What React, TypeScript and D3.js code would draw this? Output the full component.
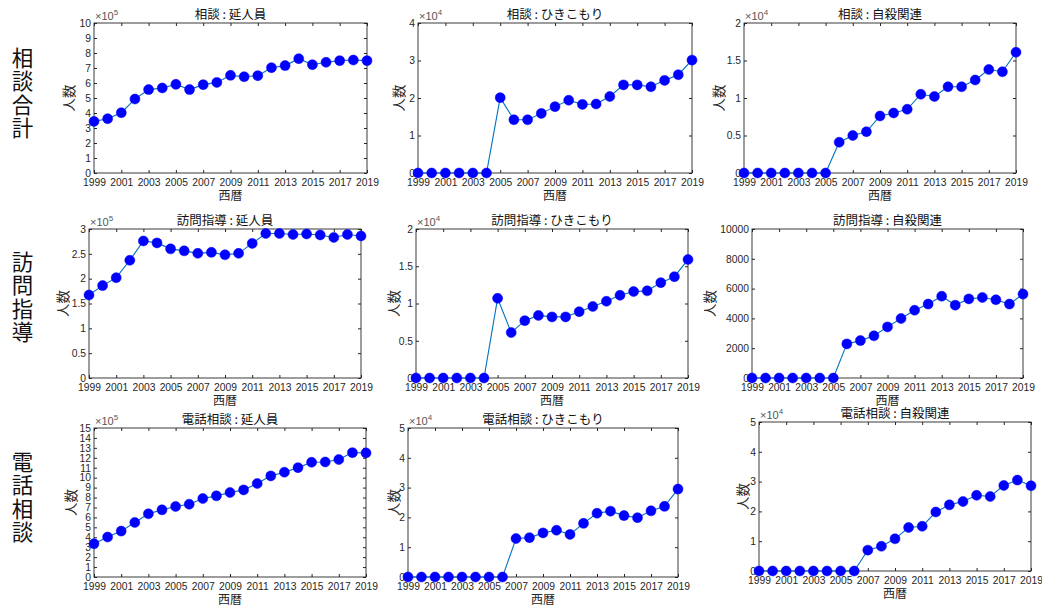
import React, {useEffect, useRef} from 'react';
import * as d3 from 'd3';

// 年 (x軸)
const years = [1999, 2000, 2001, 2002, 2003, 2004, 2005, 2006, 2007, 2008, 2009, 2010,
  2011, 2012, 2013, 2014, 2015, 2016, 2017, 2018, 2019];
const yearTicks = [1999, 2001, 2003, 2005, 2007, 2009, 2011, 2013, 2015, 2017, 2019];

// 相談
const soudanNobe = [344000, 362000, 402000, 493000, 556000, 567000, 591000, 556000, 589000, 604000, 651000,
  642000, 649000, 702000, 716000, 762000, 722000, 738000, 749000, 753000, 749000];
const soudanHiki = [0, 0, 0, 0, 0, 0, 20100, 14200, 14200, 15900, 17700, 19400, 18300, 18400, 20400,
  23500, 23500, 23000, 24700, 26200, 30100];
const soudanJisatsu = [0, 0, 0, 0, 0, 0, 0, 4100, 5000, 5500, 7600, 8000, 8500, 10500, 10200, 11500,
  11500, 12400, 13800, 13500, 16100];

// 訪問指導
const houmonNobe = [167000, 186000, 202000, 237000, 276000, 272000, 260000, 256000, 251000, 253000, 248000,
  251000, 271000, 291000, 291000, 289000, 290000, 288000, 283000, 289000, 286000];
const houmonHiki = [0, 0, 0, 0, 0, 0, 10700, 6100, 7700, 8400, 8200, 8200, 8900, 9600, 10300, 11100,
  11600, 11700, 12800, 13600, 15900];
const houmonJisatsu = [0, 0, 0, 0, 0, 0, 0, 2290, 2510, 2830, 3430, 3990, 4550, 4960, 5490, 4890, 5310,
  5400, 5250, 4960, 5630];

// 電話相談
const denwaNobe = [335000, 402000, 462000, 549000, 636000, 676000, 710000, 733000, 790000, 817000, 850000,
  877000, 941000, 1018000, 1055000, 1101000, 1155000, 1158000, 1182000, 1252000, 1249000];
const denwaHiki = [0, 0, 0, 0, 0, 0, 0, 0, 12900, 13200, 14800, 15700, 14300, 18000, 21400, 22100, 20600,
  19900, 22200, 23700, 29500];
const denwaJisatsu = [0, 0, 0, 0, 0, 0, 0, 0, 7000, 8300, 10800, 14600, 15000, 19800, 22200, 23300, 25400,
  25000, 28700, 30500, 28600];

// y軸の目盛 (表示値)
const ticks0to10 = [0, 1, 2, 3, 4, 5, 6, 7, 8, 9, 10];
const ticks0to4 = [0, 1, 2, 3, 4];
const ticks0to2 = [0, 0.5, 1, 1.5, 2];
const ticks0to3 = [0, 0.5, 1, 1.5, 2, 2.5, 3];
const ticks0to10000 = [0, 2000, 4000, 6000, 8000, 10000];
const ticks0to15 = [0, 1, 2, 3, 4, 5, 6, 7, 8, 9, 10, 11, 12, 13, 14, 15];
const ticks0to5 = [0, 1, 2, 3, 4, 5];

const rowLabels = ['相談合計', '訪問指導', '電話相談'];

interface Panel {
  title: string
  values: number[]
  yTicks: number[]
  exp: number
  box: [number, number, number, number] // left, right, top, bottom
  ylabelDx: number
}

const panels: Panel[] = [
  {title: '相談 : 延人員', values: soudanNobe, yTicks: ticks0to10, exp: 5, box: [94, 367, 23, 173], ylabelDx: -26},
  {title: '相談 : ひきこもり', values: soudanHiki, yTicks: ticks0to4, exp: 4, box: [418, 692, 23, 173], ylabelDx: -20},
  {title: '相談 : 自殺関連', values: soudanJisatsu, yTicks: ticks0to2, exp: 4, box: [744, 1016, 23, 173], ylabelDx: -26},
  {title: '訪問指導 : 延人員', values: houmonNobe, yTicks: ticks0to3, exp: 5, box: [89, 361, 229, 378], ylabelDx: -27},
  {title: '訪問指導 : ひきこもり', values: houmonHiki, yTicks: ticks0to2, exp: 4, box: [416, 688, 229, 378], ylabelDx: -23},
  {title: '訪問指導 : 自殺関連', values: houmonJisatsu, yTicks: ticks0to10000, exp: 0, box: [752, 1023, 229, 378], ylabelDx: -43},
  {title: '電話相談 : 延人員', values: denwaNobe, yTicks: ticks0to15, exp: 5, box: [94, 366, 428, 577], ylabelDx: -24},
  {title: '電話相談 : ひきこもり', values: denwaHiki, yTicks: ticks0to5, exp: 4, box: [408, 678, 428, 577], ylabelDx: -15},
  {title: '電話相談 : 自殺関連', values: denwaJisatsu, yTicks: ticks0to5, exp: 4, box: [759, 1031, 422, 571], ylabelDx: -17},
];

const width = 1042;
const height = 606;
const ink = '#262626';
const fontNum = '"Liberation Sans", Arial, "Noto Sans CJK JP", sans-serif';
const fontJp = '"Noto Sans CJK JP", "Liberation Sans", sans-serif';

const App: React.FC = () => {
  const ref = useRef<SVGSVGElement>(null);

  useEffect(() => {
    const svg = d3.select(ref.current);
    svg.selectAll('*').remove();
    svg.append('rect').attr('width', width).attr('height', height).attr('fill', 'white');

    // row labels, written vertically
    rowLabels.forEach((label, r) => {
      svg.append('text')
        .attr('x', 22.5)
        .attr('y', [47, 251, 451][r])
        .attr('style', 'writing-mode: vertical-rl; text-orientation: upright; letter-spacing: 2px')
        .attr('font-family', fontJp)
        .attr('font-size', 21.5)
        .attr('fill', '#111')
        .text(label);
    });

    panels.forEach(p => {
      const [left, right, top, bottom] = p.box;
      const factor = Math.pow(10, p.exp);
      const yMax = p.yTicks[p.yTicks.length - 1] * factor;

      const x = d3.scaleLinear([1999, 2019], [left, right]);
      const y = d3.scaleLinear([0, yMax], [bottom, top]);
      const g = svg.append('g');

      // box
      g.append('rect')
        .attr('x', left).attr('y', top)
        .attr('width', right - left).attr('height', bottom - top)
        .attr('fill', 'white').attr('stroke', ink).attr('stroke-width', 0.9);

      // x axis (bottom with labels, top ticks only)
      g.append('g')
        .attr('transform', `translate(0,${bottom})`)
        .call(d3.axisBottom(x).tickValues(yearTicks).tickFormat(d3.format('d'))
          .tickSizeInner(-3).tickSizeOuter(0).tickPadding(5.5))
        .call(a => a.select('.domain').remove())
        .call(a => a.selectAll('text').attr('font-size', 10.3).attr('font-family', fontNum).attr('fill', ink))
        .call(a => a.selectAll('line').attr('stroke', ink));
      g.append('g')
        .attr('transform', `translate(0,${top})`)
        .call(d3.axisTop(x).tickValues(yearTicks).tickFormat(() => '').tickSizeInner(-3).tickSizeOuter(0))
        .call(a => a.select('.domain').remove())
        .call(a => a.selectAll('line').attr('stroke', ink));

      // y axis
      const yTickVals = p.yTicks.map(v => v * factor);
      g.append('g')
        .attr('transform', `translate(${left},0)`)
        .call(d3.axisLeft(y).tickValues(yTickVals).tickFormat(d => String(+d / factor))
          .tickSizeInner(-3).tickSizeOuter(0).tickPadding(3))
        .call(a => a.select('.domain').remove())
        .call(a => a.selectAll('text').attr('font-size', 10.3).attr('font-family', fontNum).attr('fill', ink))
        .call(a => a.selectAll('line').attr('stroke', ink));
      g.append('g')
        .attr('transform', `translate(${right},0)`)
        .call(d3.axisRight(y).tickValues(yTickVals).tickFormat(() => '').tickSizeInner(-3).tickSizeOuter(0))
        .call(a => a.select('.domain').remove())
        .call(a => a.selectAll('line').attr('stroke', ink));

      // exponent label
      if (p.exp > 0) {
        const t = g.append('text')
          .attr('x', left + 1).attr('y', top - 3)
          .attr('font-family', fontNum).attr('font-size', 11).attr('fill', '#555');
        t.append('tspan').text('×10');
        t.append('tspan').attr('font-size', 8).attr('dy', -5).text(String(p.exp));
      }

      // title
      g.append('text')
        .attr('x', (left + right) / 2).attr('y', top - 4)
        .attr('text-anchor', 'middle')
        .attr('font-family', fontJp).attr('font-size', 12.5).attr('fill', '#111')
        .text(p.title);

      // x label
      g.append('text')
        .attr('x', (left + right) / 2).attr('y', bottom + 27)
        .attr('text-anchor', 'middle')
        .attr('font-family', fontJp).attr('font-size', 12).attr('fill', ink)
        .text('西暦');

      // y label
      const cy = (top + bottom) / 2;
      g.append('text')
        .attr('transform', `translate(${left + p.ylabelDx},${cy}) rotate(-90)`)
        .attr('text-anchor', 'middle')
        .attr('dominant-baseline', 'central')
        .attr('font-family', fontJp).attr('font-size', 13.5).attr('fill', ink)
        .text('人数');

      // line + markers
      const data = years.map((yr, i) => ({year: yr, value: p.values[i]}));
      const line = d3.line<{year: number, value: number}>()
        .x(d => x(d.year))
        .y(d => y(d.value));
      g.append('path')
        .datum(data)
        .attr('fill', 'none')
        .attr('stroke', '#0072BD')
        .attr('stroke-width', 1.1)
        .attr('d', line);
      g.selectAll('circle.pt')
        .data(data)
        .join('circle')
        .attr('class', 'pt')
        .attr('cx', d => x(d.year))
        .attr('cy', d => y(d.value))
        .attr('r', 5)
        .attr('fill', '#0000FF')
        .attr('stroke', '#0000FF')
        .attr('stroke-width', 0.5);
    });
  }, []);

  return <svg ref={ref} width={width} height={height}
              style={{position: 'absolute', left: 0, top: 0, display: 'block'}}/>;
};

export default App;
